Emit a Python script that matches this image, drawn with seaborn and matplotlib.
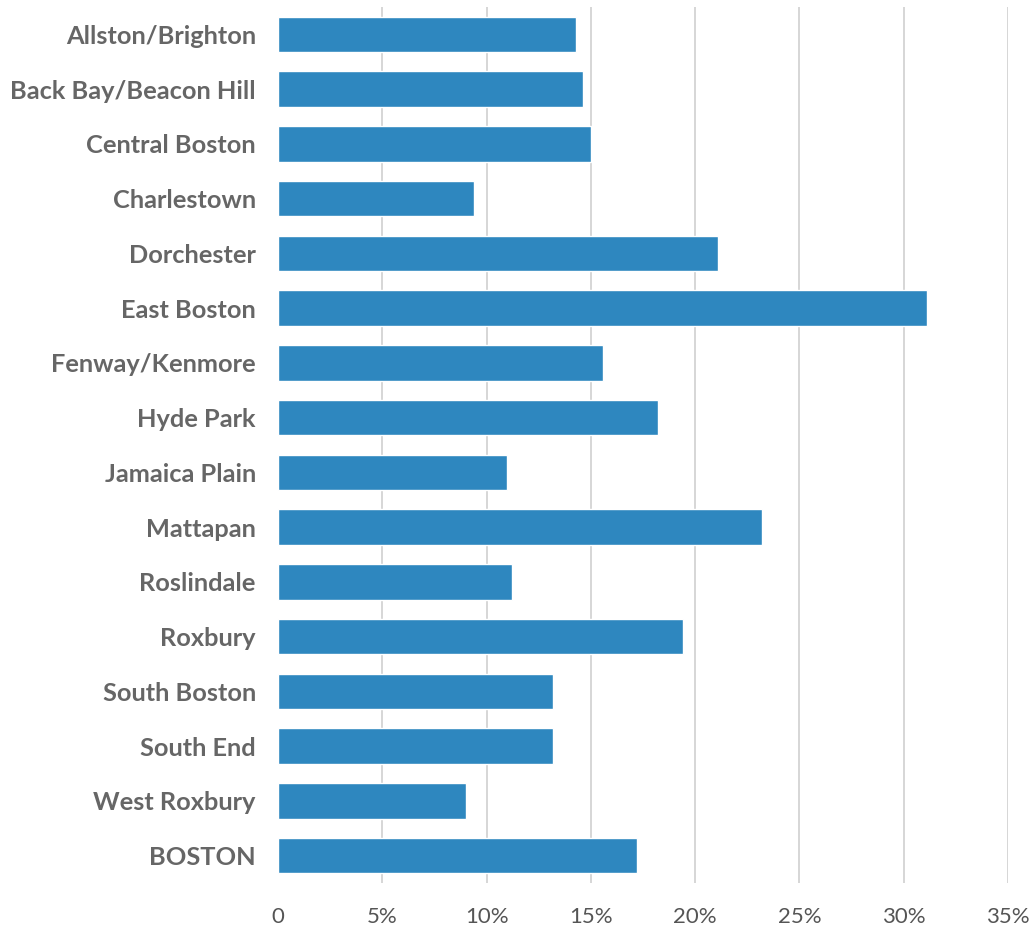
import matplotlib
matplotlib.use("Agg")
import matplotlib.pyplot as plt
import seaborn as sns
import pandas as pd
from matplotlib.ticker import FuncFormatter

neighborhoods = [
    "Allston/Brighton", "Back Bay/Beacon Hill", "Central Boston", "Charlestown",
    "Dorchester", "East Boston", "Fenway/Kenmore", "Hyde Park", "Jamaica Plain",
    "Mattapan", "Roslindale", "Roxbury", "South Boston", "South End",
    "West Roxbury", "BOSTON",
]
pct = [14.3, 14.6, 15.0, 9.4, 21.1, 31.1, 15.6, 18.2, 11.0, 23.2, 11.2, 19.4,
       13.2, 13.2, 9.0, 17.2]
x_ticks = [0, 5, 10, 15, 20, 25, 30, 35]

df = pd.DataFrame({"area": neighborhoods, "pct": pct})

sns.set_theme(style="white")
plt.rcParams["font.family"] = ["Lato", "DejaVu Sans"]

fig = plt.figure(figsize=(10.32, 9.30), dpi=100)
ax = fig.add_axes([0.2694, 0.0505, 0.7073, 0.9420])

sns.barplot(data=df, x="pct", y="area", color="#2E87BF", saturation=1,
            width=0.65, orient="h", ax=ax)

ax.set_xlim(0, 35)
ax.set_ylim(15.5, -0.5)
ax.set_xticks(x_ticks)
ax.xaxis.set_major_formatter(FuncFormatter(lambda v, _: "0" if v == 0 else f"{v:.0f}%"))
ax.set_xlabel("")
ax.set_ylabel("")

for v in x_ticks[1:]:
    ax.axvline(v, color="#CFCFCF", lw=1.2, zorder=0)

for s in ax.spines.values():
    s.set_visible(False)
ax.tick_params(axis="both", length=0)
ax.tick_params(axis="y", pad=16)
ax.tick_params(axis="x", pad=17)

for lbl in ax.get_yticklabels():
    lbl.set_fontsize(18.3)
    lbl.set_fontweight("bold")
    lbl.set_color("#666666")
for lbl in ax.get_xticklabels():
    lbl.set_fontsize(16)
    lbl.set_fontweight("normal")
    lbl.set_color("#555555")

fig.savefig("out.png", dpi=100)
